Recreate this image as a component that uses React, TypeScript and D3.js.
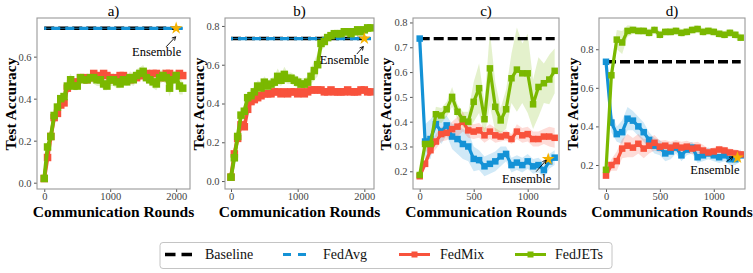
import React, { useEffect, useRef } from "react";
import * as d3 from "d3";

// communication rounds
const roundsLong = [
  0, 50, 100, 150, 200, 250, 300, 350, 400, 450, 500, 550, 600, 650, 700, 750, 800, 850, 900, 950, 1000,
  1050, 1100, 1150, 1200, 1250, 1300, 1350, 1400, 1450, 1500, 1550, 1600, 1650, 1700, 1750, 1800, 1850,
  1900, 1950, 2000, 2050, 2100,
];
const roundsShort = [
  0, 50, 100, 150, 200, 250, 300, 350, 400, 450, 500, 550, 600, 650, 700, 750, 800, 850, 900, 950, 1000,
  1050, 1100, 1150, 1200, 1250,
];
const flatLong = [0, 2100];
const flatShort = [0, 1250];

const baselineAcc = [0.735, 0.735];

// panel a
const fedJetsA = [
  0.02, 0.17, 0.22, 0.32, 0.36, 0.4, 0.41, 0.46, 0.49, 0.46, 0.46, 0.5, 0.49, 0.49, 0.5, 0.5, 0.49, 0.49,
  0.47, 0.46, 0.49, 0.49, 0.48, 0.47, 0.49, 0.48, 0.5, 0.49, 0.51, 0.52, 0.53, 0.5, 0.49, 0.48, 0.47, 0.5,
  0.51, 0.5, 0.45, 0.49, 0.51, 0.46, 0.45,
];
const fedJetsSdA = [
  0.01, 0.02, 0.02, 0.03, 0.02, 0.02, 0.02, 0.03, 0.03, 0.02, 0.02, 0.02, 0.02, 0.02, 0.02, 0.03, 0.03,
  0.03, 0.03, 0.02, 0.03, 0.03, 0.03, 0.02, 0.02, 0.02, 0.03, 0.03, 0.03, 0.03, 0.03, 0.03, 0.02, 0.03,
  0.03, 0.03, 0.03, 0.03, 0.04, 0.03, 0.03, 0.04, 0.03,
];
const fedMixA = [
  0.02, 0.12, 0.22, 0.31, 0.33, 0.37, 0.38, 0.45, 0.47, 0.47, 0.48, 0.5, 0.5, 0.49, 0.5, 0.52, 0.5, 0.51,
  0.52, 0.51, 0.5, 0.49, 0.5, 0.51, 0.51, 0.5, 0.49, 0.5, 0.5, 0.51, 0.51, 0.52, 0.51, 0.52, 0.52, 0.51,
  0.5, 0.52, 0.52, 0.5, 0.51, 0.52, 0.51,
];
const fedMixSdA = [
  0.01, 0.02, 0.02, 0.02, 0.02, 0.02, 0.02, 0.02, 0.02, 0.01, 0.01, 0.01, 0.01, 0.01, 0.01, 0.01, 0.01,
  0.01, 0.01, 0.01, 0.01, 0.01, 0.01, 0.01, 0.01, 0.01, 0.01, 0.01, 0.01, 0.01, 0.01, 0.01, 0.01, 0.01,
  0.01, 0.01, 0.01, 0.01, 0.01, 0.01, 0.01, 0.01, 0.01,
];

// panel b
const fedJetsB = [
  0.02, 0.12, 0.23, 0.34, 0.36, 0.43, 0.44, 0.46, 0.49, 0.48, 0.51, 0.49, 0.5, 0.51, 0.54, 0.52, 0.55, 0.53,
  0.53, 0.52, 0.51, 0.5, 0.5, 0.51, 0.54, 0.57, 0.6, 0.71, 0.72, 0.74, 0.75, 0.76, 0.76, 0.76, 0.77, 0.77,
  0.76, 0.77, 0.78, 0.77, 0.78, 0.79, 0.79,
];
const fedJetsSdB = [
  0.01, 0.02, 0.03, 0.03, 0.03, 0.03, 0.03, 0.03, 0.03, 0.03, 0.03, 0.03, 0.03, 0.03, 0.04, 0.03, 0.04,
  0.03, 0.03, 0.03, 0.03, 0.03, 0.03, 0.03, 0.04, 0.05, 0.06, 0.04, 0.03, 0.02, 0.02, 0.02, 0.02, 0.02,
  0.02, 0.02, 0.02, 0.02, 0.02, 0.02, 0.02, 0.02, 0.02,
];
const fedMixB = [
  0.02, 0.14, 0.22, 0.29, 0.28, 0.37, 0.41, 0.42, 0.43, 0.44, 0.45, 0.45, 0.45, 0.46, 0.46, 0.45, 0.46,
  0.45, 0.46, 0.46, 0.45, 0.46, 0.45, 0.46, 0.47, 0.47, 0.47, 0.47, 0.46, 0.46, 0.47, 0.46, 0.46, 0.46,
  0.46, 0.47, 0.46, 0.46, 0.46, 0.47, 0.47, 0.46, 0.46,
];
const fedMixSdB = [
  0.01, 0.02, 0.02, 0.02, 0.02, 0.02, 0.02, 0.01, 0.01, 0.01, 0.01, 0.01, 0.01, 0.01, 0.01, 0.01, 0.01,
  0.01, 0.01, 0.01, 0.01, 0.01, 0.01, 0.01, 0.01, 0.01, 0.01, 0.01, 0.01, 0.01, 0.01, 0.01, 0.01, 0.01,
  0.01, 0.01, 0.01, 0.01, 0.01, 0.01, 0.01, 0.01, 0.01,
];

// panel c
const fedJetsC = [
  0.185, 0.31, 0.31, 0.43, 0.425, 0.45, 0.5, 0.44, 0.41, 0.4, 0.48, 0.535, 0.41, 0.615, 0.46, 0.405, 0.45,
  0.575, 0.61, 0.595, 0.595, 0.47, 0.54, 0.555, 0.57, 0.605,
];
const fedJetsSdC = [
  0.01, 0.03, 0.03, 0.03, 0.03, 0.03, 0.04, 0.03, 0.03, 0.04, 0.08, 0.1, 0.07, 0.15, 0.1, 0.05, 0.08, 0.1,
  0.17, 0.12, 0.16, 0.1, 0.12, 0.08, 0.1, 0.09,
];
const fedMixC = [
  0.18, 0.23, 0.285, 0.32, 0.35, 0.355, 0.37, 0.38, 0.4, 0.365, 0.36, 0.365, 0.345, 0.36, 0.345, 0.34,
  0.345, 0.33, 0.36, 0.345, 0.35, 0.33, 0.33, 0.34, 0.34, 0.335,
];
const fedMixSdC = [
  0.01, 0.02, 0.02, 0.03, 0.03, 0.03, 0.03, 0.04, 0.04, 0.03, 0.03, 0.03, 0.03, 0.03, 0.03, 0.02, 0.02,
  0.02, 0.03, 0.03, 0.03, 0.03, 0.03, 0.03, 0.04, 0.04,
];
const fedAvgC = [
  0.735, 0.32, 0.33, 0.39, 0.36, 0.385, 0.34, 0.33, 0.31, 0.3, 0.25, 0.245, 0.22, 0.23, 0.24, 0.26, 0.27,
  0.225, 0.235, 0.225, 0.24, 0.22, 0.225, 0.205, 0.24, 0.255,
];
const fedAvgSdC = [
  0.01, 0.07, 0.08, 0.05, 0.05, 0.04, 0.05, 0.06, 0.06, 0.06, 0.05, 0.04, 0.04, 0.04, 0.04, 0.04, 0.03,
  0.03, 0.03, 0.03, 0.03, 0.03, 0.03, 0.03, 0.03, 0.03,
];

// panel d
const fedJetsD = [
  0.175, 0.665, 0.85, 0.835, 0.895, 0.9, 0.895, 0.895, 0.885, 0.9, 0.875, 0.89, 0.89, 0.895, 0.885, 0.89,
  0.9, 0.905, 0.89, 0.895, 0.89, 0.88, 0.875, 0.885, 0.875, 0.86,
];
const fedJetsSdD = [
  0.01, 0.05, 0.05, 0.06, 0.03, 0.02, 0.02, 0.02, 0.02, 0.02, 0.02, 0.02, 0.02, 0.02, 0.02, 0.02, 0.02,
  0.02, 0.02, 0.02, 0.02, 0.02, 0.02, 0.02, 0.02, 0.02,
];
const fedMixD = [
  0.145, 0.2, 0.22, 0.285, 0.3, 0.29, 0.31, 0.285, 0.3, 0.315, 0.295, 0.3, 0.29, 0.3, 0.29, 0.295, 0.285,
  0.29, 0.275, 0.265, 0.27, 0.28, 0.275, 0.265, 0.26, 0.255,
];
const fedMixSdD = [
  0.01, 0.03, 0.05, 0.05, 0.06, 0.05, 0.05, 0.05, 0.04, 0.04, 0.03, 0.03, 0.03, 0.03, 0.03, 0.03, 0.03,
  0.03, 0.03, 0.02, 0.02, 0.02, 0.02, 0.02, 0.02, 0.02,
];
const fedAvgD = [
  0.735, 0.42, 0.36, 0.37, 0.44, 0.43, 0.4, 0.37, 0.33, 0.3, 0.29, 0.26, 0.27, 0.29, 0.25, 0.28, 0.29,
  0.24, 0.25, 0.26, 0.25, 0.24, 0.25, 0.23, 0.23, 0.25,
];
const fedAvgSdD = [
  0.01, 0.05, 0.04, 0.06, 0.06, 0.05, 0.05, 0.05, 0.04, 0.04, 0.04, 0.04, 0.04, 0.03, 0.03, 0.03, 0.03,
  0.03, 0.03, 0.03, 0.03, 0.03, 0.03, 0.03, 0.03, 0.03,
];

const ensembleRounds = [2000, 2000, 1190, 1220];
const ensembleAcc = [0.735, 0.735, 0.249, 0.238];

const panelTitles = ["a)", "b)", "c)", "d)"];
const legendNames = ["Baseline", "FedAvg", "FedMix", "FedJETs"];

const FONT = "'Liberation Serif', 'DejaVu Serif', serif";
const TOP = 18;
const BOTTOM = 189;

const colors = {
  baseline: "#000000",
  fedAvg: "#1492d6",
  fedMix: "#f8523c",
  fedJets: "#7ab800",
  star: "#f6b200",
};

type Series = {
  rounds: number[];
  values: number[];
  sd?: number[];
  color: string;
  kind: "base" | "flat" | "marker";
};

type Panel = {
  left: number;
  right: number;
  xDomain: [number, number];
  yDomain: [number, number];
  xTicks: number[];
  yTicks: number[];
  yTitleX: number;
  lineW: number;
  markSize: number;
  series: Series[];
  // pixel offsets from the star: arrow tail, arrow tip, text anchor
  note: { tail: [number, number]; tip: [number, number]; text: [number, number] };
};

const panels: Panel[] = [
  {
    left: 37, right: 190, xDomain: [-110, 2210], yDomain: [-0.03, 0.784],
    xTicks: [0, 1000, 2000], yTicks: [0, 0.2, 0.4, 0.6], yTitleX: 16, lineW: 3.8, markSize: 7.5,
    series: [
      { rounds: flatLong, values: baselineAcc, color: colors.baseline, kind: "base" },
      { rounds: flatLong, values: baselineAcc, color: colors.fedAvg, kind: "flat" },
      { rounds: roundsLong, values: fedMixA, sd: fedMixSdA, color: colors.fedMix, kind: "marker" },
      { rounds: roundsLong, values: fedJetsA, sd: fedJetsSdA, color: colors.fedJets, kind: "marker" },
    ],
    note: { tail: [-10, 18.5], tip: [-0.5, 8.5], text: [-19.5, 28] },
  },
  {
    left: 225, right: 374, xDomain: [-90, 2145], yDomain: [-0.041, 0.841],
    xTicks: [0, 1000, 2000], yTicks: [0, 0.2, 0.4, 0.6, 0.8], yTitleX: 204, lineW: 3.8, markSize: 7.5,
    series: [
      { rounds: flatLong, values: baselineAcc, color: colors.baseline, kind: "base" },
      { rounds: flatLong, values: baselineAcc, color: colors.fedAvg, kind: "flat" },
      { rounds: roundsLong, values: fedMixB, sd: fedMixSdB, color: colors.fedMix, kind: "marker" },
      { rounds: roundsLong, values: fedJetsB, sd: fedJetsSdB, color: colors.fedJets, kind: "marker" },
    ],
    note: { tail: [-7.5, 15.5], tip: [-1, 8], text: [-20, 25] },
  },
  {
    left: 413, right: 559, xDomain: [-62, 1290], yDomain: [0.1286, 0.818],
    xTicks: [0, 500, 1000], yTicks: [0.2, 0.3, 0.4, 0.5, 0.6, 0.7, 0.8], yTitleX: 391, lineW: 3.2, markSize: 6.5,
    series: [
      { rounds: flatShort, values: baselineAcc, color: colors.baseline, kind: "base" },
      { rounds: roundsShort, values: fedAvgC, sd: fedAvgSdC, color: colors.fedAvg, kind: "marker" },
      { rounds: roundsShort, values: fedMixC, sd: fedMixSdC, color: colors.fedMix, kind: "marker" },
      { rounds: roundsShort, values: fedJetsC, sd: fedJetsSdC, color: colors.fedJets, kind: "marker" },
    ],
    note: { tail: [-12, 12.5], tip: [-2, 1], text: [-21.5, 23.5] },
  },
  {
    left: 599, right: 745, xDomain: [-65, 1290], yDomain: [0.0755, 0.962],
    xTicks: [0, 500, 1000], yTicks: [0.2, 0.4, 0.6, 0.8], yTitleX: 578, lineW: 3.2, markSize: 6.5,
    series: [
      { rounds: flatShort, values: baselineAcc, color: colors.baseline, kind: "base" },
      { rounds: roundsShort, values: fedAvgD, sd: fedAvgSdD, color: colors.fedAvg, kind: "marker" },
      { rounds: roundsShort, values: fedMixD, sd: fedMixSdD, color: colors.fedMix, kind: "marker" },
      { rounds: roundsShort, values: fedJetsD, sd: fedJetsSdD, color: colors.fedJets, kind: "marker" },
    ],
    note: { tail: [-11, 4], tip: [-4.5, -1], text: [-22.5, 16.5] },
  },
];

function drawPanel(svg: any, p: Panel, idx: number) {
  const x = d3.scaleLinear().domain(p.xDomain).range([p.left, p.right]);
  const y = d3.scaleLinear().domain(p.yDomain).range([BOTTOM, TOP]);
  const g = svg.append("g");

  const clipId = `clip-${idx}`;
  g.append("clipPath").attr("id", clipId).append("rect")
    .attr("x", p.left).attr("y", TOP).attr("width", p.right - p.left).attr("height", BOTTOM - TOP);
  const plot = g.append("g").attr("clip-path", `url(#${clipId})`);

  // ribbons
  p.series.forEach((s) => {
    if (!s.sd) return;
    const area = d3.area<number>()
      .x((_, i) => x(s.rounds[i]))
      .y0((v, i) => y(v - s.sd![i]))
      .y1((v, i) => y(v + s.sd![i]));
    plot.append("path").datum(s.values).attr("d", area).attr("fill", s.color).attr("opacity", 0.2);
  });

  p.series.forEach((s) => {
    const line = d3.line<number>().x((_, i) => x(s.rounds[i])).y((v) => y(v));
    if (s.kind === "base") {
      plot.append("path").datum(s.values).attr("d", line).attr("fill", "none")
        .attr("stroke", s.color).attr("stroke-width", 3.4).attr("stroke-dasharray", "10 4");
    } else if (s.kind === "flat") {
      plot.append("path").datum(s.values).attr("d", line).attr("fill", "none")
        .attr("stroke", s.color).attr("stroke-width", 1).attr("opacity", 0.7);
      plot.append("path").datum(s.values).attr("d", line).attr("fill", "none")
        .attr("stroke", s.color).attr("stroke-width", 3.2)
        .attr("stroke-dasharray", "9 5").attr("stroke-dashoffset", 7);
    } else {
      plot.append("path").datum(s.values).attr("d", line).attr("fill", "none")
        .attr("stroke", s.color).attr("stroke-width", p.lineW).attr("stroke-linejoin", "round");
      const m = p.markSize;
      plot.selectAll(null).data(s.values).enter().append("rect")
        .attr("x", (_: number, i: number) => x(s.rounds[i]) - m / 2)
        .attr("y", (v: number) => y(v) - m / 2)
        .attr("width", m).attr("height", m).attr("fill", s.color);
    }
  });

  // ensemble star + annotation
  const sx = x(ensembleRounds[idx]);
  const sy = y(ensembleAcc[idx]);
  g.append("path").attr("d", d3.symbol().type(d3.symbolStar).size(50)())
    .attr("transform", `translate(${sx},${sy})`).attr("fill", colors.star);
  const tx = sx + p.note.tail[0], ty = sy + p.note.tail[1];
  const hx = sx + p.note.tip[0], hy = sy + p.note.tip[1];
  g.append("line").attr("x1", tx).attr("y1", ty).attr("x2", hx).attr("y2", hy)
    .attr("stroke", "#000").attr("stroke-width", 0.9);
  const ang = Math.atan2(hy - ty, hx - tx);
  const ah = 4;
  const head = [ang + Math.PI - 0.5, ang + Math.PI + 0.5]
    .map((a) => `M${hx},${hy}L${hx + ah * Math.cos(a)},${hy + ah * Math.sin(a)}`).join("");
  g.append("path").attr("d", head).attr("stroke", "#000").attr("stroke-width", 0.9).attr("fill", "none");
  g.append("text").attr("x", sx + p.note.text[0]).attr("y", sy + p.note.text[1])
    .attr("text-anchor", "middle").attr("font-family", FONT).attr("font-size", 12.5)
    .attr("fill", "#000").text("Ensemble");

  // axes
  const xAxis = g.append("g").attr("transform", `translate(0,${BOTTOM})`)
    .call(d3.axisBottom(x).tickValues(p.xTicks).tickSize(3).tickSizeOuter(0).tickPadding(1).tickFormat(d3.format("d")));
  const yAxis = g.append("g").attr("transform", `translate(${p.left},0)`)
    .call(d3.axisLeft(y).tickValues(p.yTicks).tickSize(3).tickSizeOuter(0).tickPadding(2.5).tickFormat(d3.format(".1f")));
  [xAxis, yAxis].forEach((a) => {
    a.select(".domain").remove();
    a.selectAll("line").attr("stroke", "#555");
    a.selectAll("text").attr("font-family", FONT).attr("font-size", 10.5).attr("fill", "#444");
  });

  g.append("rect").attr("x", p.left).attr("y", TOP).attr("width", p.right - p.left)
    .attr("height", BOTTOM - TOP).attr("fill", "none").attr("stroke", "#9a9a9a").attr("stroke-width", 1.1);

  const cx = (p.left + p.right) / 2;
  g.append("text").attr("x", cx).attr("y", 15.5).attr("text-anchor", "middle")
    .attr("font-family", FONT).attr("font-size", 15).text(panelTitles[idx]);
  g.append("text").attr("x", cx).attr("y", 216.5).attr("text-anchor", "middle")
    .attr("font-family", FONT).attr("font-size", 15.5).attr("font-weight", "bold").text("Communication Rounds");
  g.append("text").attr("transform", `translate(${p.yTitleX},104) rotate(-90)`).attr("text-anchor", "middle")
    .attr("font-family", FONT).attr("font-size", 15.5).attr("font-weight", "bold").text("Test Accuracy");
}

function drawLegend(svg: any) {
  const g = svg.append("g");
  g.append("rect").attr("x", 160).attr("y", 242.5).attr("width", 452).attr("height", 26).attr("rx", 3)
    .attr("fill", "#fff").attr("stroke", "#c4c4c4").attr("stroke-width", 1);
  const ly = 254.5;
  const keyX = [165, 283, 399, 515];
  const textX = [205, 323, 440, 555];
  const keyColors = [colors.baseline, colors.fedAvg, colors.fedMix, colors.fedJets];
  legendNames.forEach((name, i) => {
    const k = keyX[i];
    if (i === 0) {
      g.append("line").attr("x1", k).attr("x2", k + 27).attr("y1", ly).attr("y2", ly)
        .attr("stroke", keyColors[i]).attr("stroke-width", 3.4).attr("stroke-dasharray", "10.5 6");
    } else if (i === 1) {
      g.append("line").attr("x1", k).attr("x2", k + 25).attr("y1", ly).attr("y2", ly)
        .attr("stroke", keyColors[i]).attr("stroke-width", 3).attr("stroke-dasharray", "8 7");
    } else {
      g.append("line").attr("x1", k).attr("x2", k + 31).attr("y1", ly).attr("y2", ly)
        .attr("stroke", keyColors[i]).attr("stroke-width", 3);
      g.append("rect").attr("x", k + 15.5 - 3).attr("y", ly - 3).attr("width", 6).attr("height", 6)
        .attr("fill", keyColors[i]);
    }
    g.append("text").attr("x", textX[i]).attr("y", ly + 4.8).attr("font-family", FONT)
      .attr("font-size", 14).attr("fill", "#111").text(name);
  });
}

export default function App() {
  const ref = useRef<SVGSVGElement>(null);
  useEffect(() => {
    const svg = d3.select(ref.current);
    svg.selectAll("*").remove();
    panels.forEach((p, i) => drawPanel(svg, p, i));
    drawLegend(svg);
  }, []);
  return (
    <svg
      ref={ref}
      width={753}
      height={273}
      style={{ position: "absolute", left: 0, top: 0, background: "#fff" }}
    />
  );
}
